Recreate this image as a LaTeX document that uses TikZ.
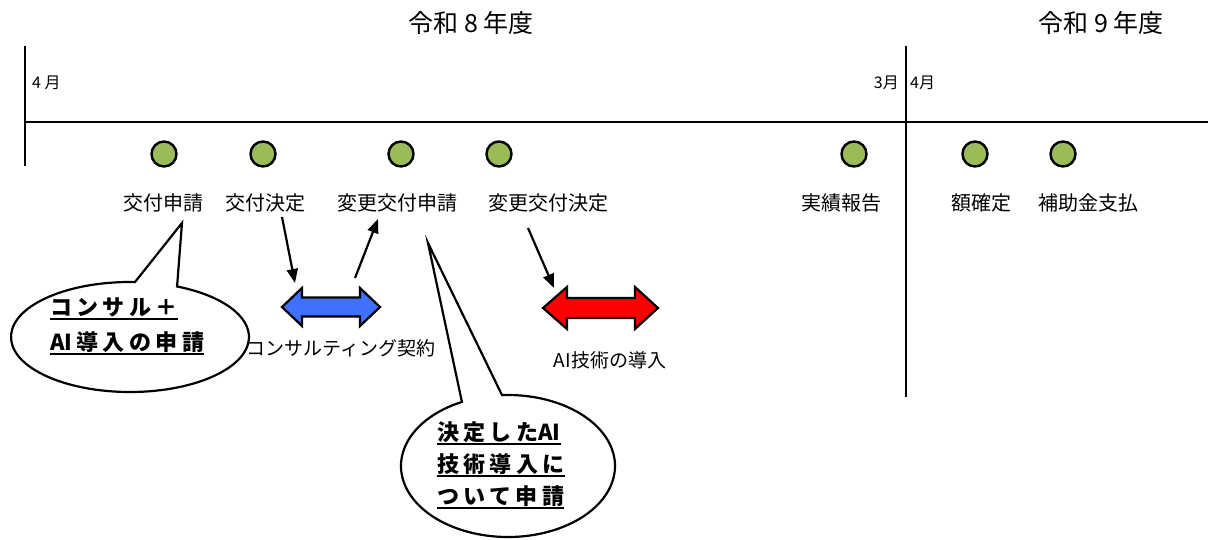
\documentclass[tikz,border=0pt]{standalone}
\usepackage{fontspec}
\usetikzlibrary{arrows.meta,calc}
\newfontfamily\jp{Noto Sans CJK JP}
\newfontfamily\jpsp{Noto Sans CJK JP}[LetterSpace=20]
\definecolor{dotgreen}{RGB}{155,187,89}
\definecolor{arrblue}{RGB}{64,112,255}
\definecolor{arrred}{RGB}{255,0,0}
\newcommand\myul[1]{\setbox0\hbox{#1}\rlap{\rule[-5pt]{\wd0}{1.8pt}}\box0}
\newcommand\tightAI{{\jp\bfseries AI}\hspace{4pt}}
\tikzset{
  axis/.style={line width=2.2pt},
  dot/.style={circle, draw=black, fill=dotgreen, line width=2.4pt, minimum size=25pt, inner sep=0pt},
  title/.style={font=\jp\fontsize{25}{30}\selectfont, inner sep=0pt},
  month/.style={font=\jp\fontsize{16}{19}\selectfont, inner sep=0pt},
  lbl/.style={font=\jp\fontsize{20}{24}\selectfont, inner sep=0pt},
  sublbl/.style={font=\jp\fontsize{19}{23}\selectfont, inner sep=0pt},
  ctext/.style={font=\jpsp\bfseries\fontsize{22}{26}\selectfont, inner sep=0pt, anchor=base west},
  conn/.style={line width=2.2pt, -{Triangle[length=14pt,width=11pt]}},
  blockarrow/.style={draw=black, line width=2.2pt, line join=miter},
  callout/.style={draw=black, fill=white, line width=2.2pt, line join=miter}
}
\begin{document}
\begin{tikzpicture}[x=1pt,y=-1pt]
\useasboundingbox (0,0) rectangle (1208,539);
% axes
\coordinate (vlt) at (25,46);
\coordinate (vlb) at (25,166);
\coordinate (hl) at (25,122);
\coordinate (hr) at (1208,122);
\coordinate (vrt) at (906,46);
\coordinate (vrb) at (906,397);
\draw[axis] (vlt) -- (vlb);
\draw[axis] (hl) -- (hr);
\draw[axis] (vrt) -- (vrb);
% titles and months
\node[title] (t8) at (471,23) {令和 8 年度};
\node[title] (t9) at (1101,23) {令和 9 年度};
\node[month, anchor=west] (m4a) at (32,83) {4 月};
\node[month, anchor=east] (m3) at (899,83) {3月};
\node[month, anchor=west] (m4b) at (910,83) {4月};
% dots
\node[dot] (d1) at (164,154) {};
\node[dot] (d2) at (263,154) {};
\node[dot] (d3) at (401,154) {};
\node[dot] (d4) at (499,154) {};
\node[dot] (d5) at (854,154) {};
\node[dot] (d6) at (975,154) {};
\node[dot] (d7) at (1063,154) {};
% labels
\node[lbl] (l1) at (163,203) {交付申請};
\node[lbl] (l2) at (265,203) {交付決定};
\node[lbl] (l3) at (397,203) {変更交付申請};
\node[lbl] (l4) at (548,203) {変更交付決定};
\node[lbl] (l5) at (841,203) {実績報告};
\node[lbl] (l6) at (981,203) {額確定};
\node[lbl] (l7) at (1088,203) {補助金支払};
% block arrows
\draw[blockarrow, fill=arrblue] (282,307) -- (302,288) -- (302,297.5) -- (360,297.5) -- (360,288) -- (380,307)
  -- (360,326) -- (360,316.5) -- (302,316.5) -- (302,326) -- cycle;
\draw[blockarrow, fill=arrred] (543,308) -- (567,287) -- (567,298) -- (635,298) -- (635,287) -- (658,308)
  -- (635,329) -- (635,318) -- (567,318) -- (567,329) -- cycle;
\node[sublbl] (b1) at (341,348) {コンサルティング契約};
\node[sublbl] (b2) at (610,360) {AI技術の導入};
% thin arrows
\coordinate (a1s) at (282,217);
\coordinate (a1e) at (295,283);
\coordinate (a2s) at (355,278);
\coordinate (a2e) at (378,219);
\coordinate (a3s) at (528,228);
\coordinate (a3e) at (554,288);
\draw[conn] (a1s) -- (a1e);
\draw[conn] (a2s) -- (a2e);
\draw[conn] (a3s) -- (a3e);
% callout 1
\coordinate (c1) at (130,337);
\coordinate (tip1) at (182,223);
\draw[callout] ($(c1)+(66.7:119pt and 55pt)$) -- (tip1) -- ($(c1)+(87.6:119pt and 55pt)$)
  arc[start angle=87.6, end angle=426.7, x radius=119pt, y radius=55pt] -- cycle;
\node[ctext] (c1a) at (50,315) {\myul{コンサル＋}};
\node[ctext] (c1b) at (50,350) {\myul{\tightAI 導入の申請}};
% callout 2
\coordinate (c2) at (508,466);
\coordinate (tip2) at (428,243);
\draw[callout] ($(c2)+(93.2:107pt and 71pt)$) -- (tip2) -- ($(c2)+(115.5:107pt and 71pt)$)
  arc[start angle=115.5, end angle=453.2, x radius=107pt, y radius=71pt] -- cycle;
\node[ctext] (c2a) at (437,440) {\myul{決定した{\jp\bfseries AI}}};
\node[ctext] (c2b) at (437,472) {\myul{技術導入に}};
\node[ctext] (c2c) at (437,504) {\myul{ついて申請}};
\end{tikzpicture}
\end{document}
